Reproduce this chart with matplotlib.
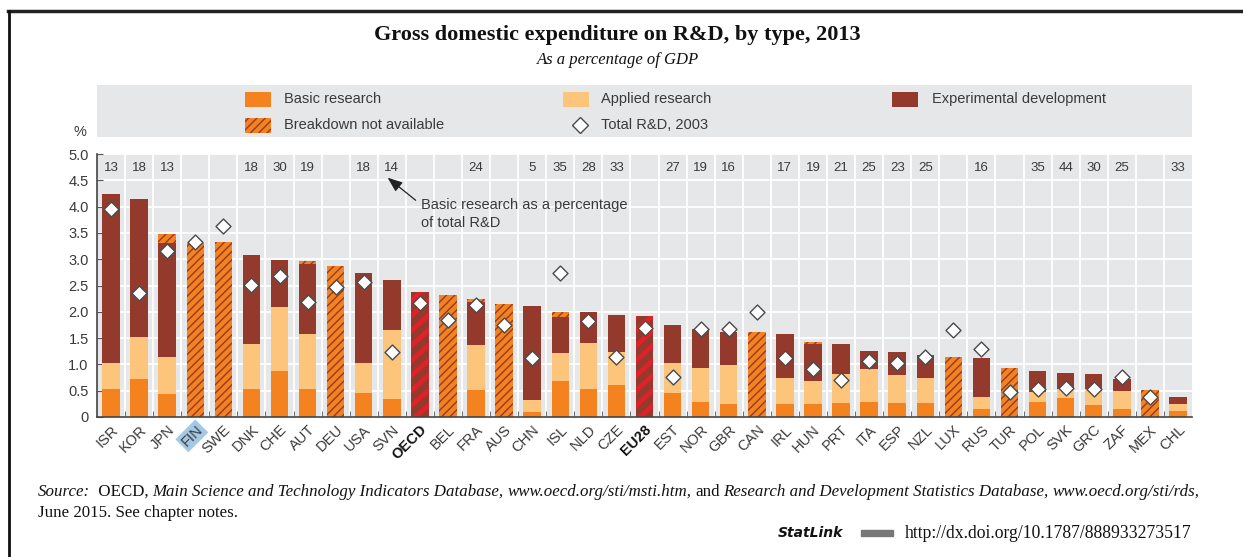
import numpy as np
import matplotlib.pyplot as plt
from matplotlib.patches import Rectangle, Polygon
from matplotlib.lines import Line2D

# ---- data ----
countries = ["ISR", "KOR", "JPN", "FIN", "SWE", "DNK", "CHE", "AUT", "DEU", "USA",
             "SVN", "OECD", "BEL", "FRA", "AUS", "CHN", "ISL", "NLD", "CZE", "EU28",
             "EST", "NOR", "GBR", "CAN", "IRL", "HUN", "PRT", "ITA", "ESP", "NZL",
             "LUX", "RUS", "TUR", "POL", "SVK", "GRC", "ZAF", "MEX", "CHL"]
basic = [0.54, 0.72, 0.43, 0, 0, 0.54, 0.88, 0.54, 0, 0.46,
         0.34, 0, 0, 0.52, 0, 0.09, 0.68, 0.54, 0.61, 0,
         0.45, 0.29, 0.24, 0, 0.24, 0.24, 0.27, 0.29, 0.27, 0.27,
         0, 0.15, 0, 0.29, 0.36, 0.22, 0.15, 0, 0.11]
applied = [0.48, 0.80, 0.72, 0, 0, 0.84, 1.22, 1.04, 0, 0.56,
           1.31, 0, 0, 0.84, 0, 0.23, 0.54, 0.86, 0.63, 0,
           0.57, 0.65, 0.75, 0, 0.50, 0.45, 0.55, 0.63, 0.52, 0.48,
           0, 0.23, 0, 0.18, 0.18, 0.32, 0.35, 0, 0.13]
experimental = [3.22, 2.63, 2.16, 0, 0, 1.70, 0.89, 1.32, 0, 1.72,
                0.95, 0, 0, 0.82, 0, 1.79, 0.68, 0.59, 0.70, 0,
                0.72, 0.74, 0.63, 0, 0.84, 0.69, 0.56, 0.34, 0.45, 0.42,
                0, 0.75, 0, 0.41, 0.29, 0.27, 0.23, 0, 0.14]
not_available = [0, 0, 0.17, 3.31, 3.33, 0, 0, 0.07, 2.88, 0,
                 0, 2.38, 2.31, 0.06, 2.15, 0, 0.09, 0, 0, 1.92,
                 0, 0, 0, 1.62, 0, 0.05, 0, 0, 0, 0,
                 1.15, 0, 0.94, 0, 0, 0, 0, 0.51, 0]
total_2003 = [3.96, 2.36, 3.15, 3.32, 3.64, 2.51, 2.68, 2.18, 2.47, 2.57,
              1.24, 2.16, 1.84, 2.12, 1.74, 1.13, 2.74, 1.82, 1.15, 1.70,
              0.76, 1.68, 1.68, 1.99, 1.13, 0.92, 0.70, 1.06, 1.02, 1.15,
              1.66, 1.29, 0.48, 0.54, 0.55, 0.54, 0.76, 0.38, np.nan]
basic_share = ["13", "18", "13", "", "", "18", "30", "19", "", "18",
               "14", "", "", "24", "", "5", "35", "28", "33", "",
               "27", "19", "16", "", "17", "19", "21", "25", "23", "25",
               "", "16", "", "35", "44", "30", "25", "", "33"]
aggregates = ["OECD", "EU28"]
highlight = "FIN"

C_BASIC = "#f4821f"
C_APPLIED = "#fdc57c"
C_EXP = "#943a2c"
C_RED = "#e2202a"
C_BG = "#e6e7e8"
C_TXT = "#3a3a3a"

W, H = 1243, 557
SANS = ["Liberation Sans Narrow", "Liberation Sans", "DejaVu Sans"]
SERIF = ["Liberation Serif", "DejaVu Serif"]
plt.rcParams["font.family"] = SANS

fig = plt.figure(figsize=(W / 100, H / 100), dpi=100)
ax = fig.add_axes([97 / W, 1 - 417 / H, 1095 / W, 263 / H])
ax.set_facecolor(C_BG)

x = np.arange(len(countries))
b = np.array(basic)
a = np.array(applied)
e = np.array(experimental)
na = np.array(not_available)
is_agg = np.array([c in aggregates for c in countries])
bw = 0.62

ax.set_xlim(-0.5, len(countries) - 0.5)
ax.set_ylim(0, 5.0)

ax.bar(x, b, bw, color=C_BASIC, lw=0, zorder=2)
ax.bar(x, a, bw, bottom=b, color=C_APPLIED, lw=0, zorder=2)
ax.bar(x, e, bw, bottom=b + a, color=C_EXP, lw=0, zorder=2)

top = b + a + e
m = (na > 0) & ~is_agg
ax.bar(x[m], na[m], bw, bottom=top[m], color=C_BASIC, edgecolor=C_EXP,
       hatch="////", lw=0, zorder=2)

# OECD / EU28: red bars with broad brown diagonal stripes, clipped to the bar
ab = ax.bar(x[is_agg], na[is_agg], bw, bottom=top[is_agg], color=C_RED,
            lw=0, zorder=2)
x_px = ax.transData.transform((1, 0))[0] - ax.transData.transform((0, 0))[0]
y_px = ax.transData.transform((0, 1))[1] - ax.transData.transform((0, 0))[1]
slope = 0.9 * x_px / y_px    # roughly 40 degree stripes on screen
period = 15 / y_px           # vertical period of the stripes
for p in ab:
    x0, y0 = p.get_x(), p.get_y()
    w, h = p.get_width(), p.get_height()
    c = y0 - w * slope - period
    while c < y0 + h:
        poly = Polygon([(x0, c), (x0 + w, c + w * slope),
                        (x0 + w, c + w * slope + 0.58 * period),
                        (x0, c + 0.58 * period)],
                       closed=True, facecolor=C_EXP, lw=0, zorder=2.1)
        ax.add_patch(poly)
        poly.set_clip_path(p)
        c += period

ax.scatter(x, total_2003, marker="D", s=58, facecolor="white",
           edgecolor="#4a4a4a", lw=1.0, zorder=4)

for xi, s in zip(x, basic_share):
    if s:
        ax.text(xi, 4.74, s, ha="center", va="center", fontsize=9.5, color=C_TXT)

ax.annotate("", xy=(9.85, 4.55), xytext=(10.85, 4.12),
            arrowprops=dict(arrowstyle="-|>,head_length=0.9,head_width=0.35",
                            color="#222222", lw=0.9, shrinkA=0, shrinkB=0))
ax.text(11.05, 3.86, "Basic research as a percentage\nof total R&D", fontsize=10.5,
        color=C_TXT, va="center", ha="left", linespacing=1.35)

ax.set_yticks(np.arange(0, 5.01, 0.5))
ax.set_yticklabels(["0"] + [f"{v:.1f}" for v in np.arange(0.5, 5.01, 0.5)],
                   fontsize=10.5, color=C_TXT)
ax.set_xticks(x)
ax.set_xticks(x[:-1] + 0.5, minor=True)
ax.set_xticklabels(countries, rotation=45, ha="right", rotation_mode="anchor",
                   fontsize=10.5, color=C_TXT)
for lab in ax.get_xticklabels():
    if lab.get_text() in aggregates:
        lab.set_fontweight("bold")
        lab.set_color("#111111")
    if lab.get_text() == highlight:
        lab.set_bbox(dict(boxstyle="square,pad=0.15", fc="#a3c9e6", ec="none"))
ax.tick_params(axis="x", which="major", length=0, pad=4)
ax.tick_params(axis="x", which="minor", direction="in", length=4, color="#555555")
ax.tick_params(axis="y", direction="in", length=4, color="#555555", pad=6)
ax.grid(axis="y", color="white", lw=1.3)
ax.grid(axis="x", which="minor", color="white", lw=1.3)
ax.set_axisbelow(True)
for side in ["top", "right"]:
    ax.spines[side].set_visible(False)
for side in ["left", "bottom"]:
    ax.spines[side].set_color("#444444")
    ax.spines[side].set_linewidth(1.2)

# legend panel
leg = fig.add_axes([97 / W, 1 - 137 / H, 1095 / W, 52 / H])
leg.set_xlim(97, 1192)
leg.set_ylim(137, 85)
leg.set_facecolor(C_BG)
leg.set_xticks([])
leg.set_yticks([])
for s in leg.spines.values():
    s.set_visible(False)


def swatch(px, py, **kw):
    leg.add_patch(Rectangle((px, py - 7.5), 26, 15, lw=0, **kw))


swatch(245, 99, facecolor=C_BASIC)
swatch(563, 99, facecolor=C_APPLIED)
swatch(892, 99, facecolor=C_EXP)
swatch(245, 125, facecolor=C_BASIC, edgecolor=C_EXP, hatch="////")
leg.plot([580], [125], marker="D", ms=8.5, mfc="white", mec="#4a4a4a", mew=1.0)
for px, py, s in [(284, 99, "Basic research"), (601, 99, "Applied research"),
                  (932, 99, "Experimental development"),
                  (284, 125, "Breakdown not available"), (601, 125, "Total R&D, 2003")]:
    leg.text(px, py, s, va="center", fontsize=10.5, color=C_TXT)

# titles and frame
fig.text(0.497, 1 - 35 / H, "Gross domestic expenditure on R&D, by type, 2013",
         ha="center", va="center", fontsize=16, fontweight="bold",
         family=SERIF, color="#111111")
fig.text(0.497, 1 - 60 / H, "As a percentage of GDP", ha="center", va="center",
         fontsize=12, style="italic", family=SERIF, color="#111111")
fig.text(80 / W, 1 - 132 / H, "%", ha="center", va="center", fontsize=10.5,
         color=C_TXT)
fig.add_artist(Line2D([8 / W, 1], [1 - 11 / H] * 2, color="#222222", lw=2.5))
fig.add_artist(Line2D([9 / W] * 2, [0, 1 - 11 / H], color="#111111", lw=2))

# source note, written piece by piece (mixed italic / upright)
renderer = fig.canvas.get_renderer()


def write_line(px, py, pieces, size=12.2, gap=3.8):
    cur = px / W
    for s, style in pieces:
        t = fig.text(cur, 1 - py / H, s, ha="left", va="baseline", fontsize=size,
                     style=style, family=SERIF, color="#111111")
        bb = t.get_window_extent(renderer)
        cur = (bb.x1 + gap) / W


write_line(38, 496, [("Source:", "italic"), (" OECD,", "normal"),
                     ("Main Science and Technology Indicators Database,", "italic"),
                     ("www.oecd.org/sti/msti.htm,", "italic"), ("and", "normal"),
                     ("Research and Development Statistics Database,", "italic"),
                     ("www.oecd.org/sti/rds,", "italic")])
write_line(38, 517, [("June 2015. See chapter notes.", "normal")])
fig.text(778 / W, 1 - 533 / H, "StatLink", ha="left", va="center", fontsize=10,
         fontweight="bold", style="italic", family=["DejaVu Sans"],
         color="#111111")
fig.add_artist(Rectangle((861 / W, 1 - 536 / H), 32 / W, 6 / H, color="#777777",
                         transform=fig.transFigure))
fig.text(905 / W, 1 - 533 / H, "http://dx.doi.org/10.1787/888933273517",
         ha="left", va="center", fontsize=12.7, family=SERIF, color="#111111")

fig.savefig("out.png", dpi=100)
